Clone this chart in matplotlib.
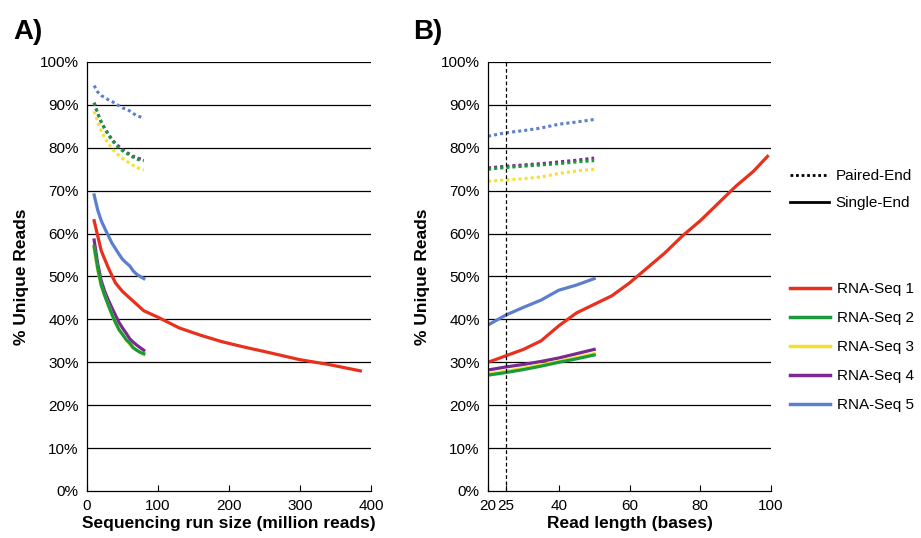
import matplotlib
matplotlib.use("Agg")
import matplotlib.pyplot as plt
from matplotlib.lines import Line2D

plt.rcParams["font.family"] = ["Liberation Sans", "DejaVu Sans"]

names = ["RNA-Seq 1", "RNA-Seq 2", "RNA-Seq 3", "RNA-Seq 4", "RNA-Seq 5"]
colors = ["#e8301c", "#1a9a3a", "#f5e12a", "#7b2a92", "#5b7fcc"]

# Panel A: run size (million reads) vs % unique reads
run_pe = [10, 15, 20, 25, 30, 35, 40, 45, 50, 55, 60, 65, 70, 75, 80]
pe_a = {
    "RNA-Seq 5": [94.5, 93.0, 92.2, 91.7, 91.2, 90.8, 90.3, 89.8, 89.3, 89.0, 88.6, 88.0, 87.5, 87.2, 86.8],
    "RNA-Seq 4": [90.5, 88.0, 86.0, 84.5, 83.2, 82.0, 81.0, 80.3, 79.6, 79.0, 78.5, 78.0, 77.7, 77.4, 77.2],
    "RNA-Seq 2": [90.5, 88.0, 86.0, 84.4, 83.0, 81.8, 80.8, 80.0, 79.3, 78.8, 78.3, 77.8, 77.4, 77.1, 77.0],
    "RNA-Seq 3": [88.5, 86.0, 84.0, 82.3, 81.0, 79.8, 79.0, 78.2, 77.5, 77.0, 76.4, 75.9, 75.5, 75.0, 74.8],
}
run_se1 = [10, 20, 30, 40, 50, 60, 70, 80, 100, 130, 160, 190, 220, 250, 300, 340, 385]
se1_a = [63.0, 56.0, 52.0, 48.5, 46.5, 45.0, 43.5, 42.0, 40.5, 38.0, 36.3, 34.8, 33.6, 32.5, 30.6, 29.5, 28.0]
run_se = [10, 15, 20, 25, 30, 35, 40, 45, 50, 55, 60, 65, 70, 75, 80]
se_a = {
    "RNA-Seq 5": [69.0, 65.5, 63.0, 61.2, 59.5, 57.8, 56.5, 55.2, 54.0, 53.2, 52.5, 51.3, 50.5, 50.0, 49.5],
    "RNA-Seq 4": [58.5, 53.0, 49.0, 46.5, 44.5, 42.7, 41.0, 39.3, 38.0, 36.8, 35.5, 34.7, 34.0, 33.4, 32.8],
    "RNA-Seq 3": [56.5, 51.5, 47.8, 45.5, 43.3, 41.2, 39.2, 37.7, 36.5, 35.3, 34.2, 33.3, 32.8, 32.3, 31.8],
    "RNA-Seq 2": [57.0, 52.0, 48.0, 45.5, 43.3, 41.2, 39.3, 37.6, 36.5, 35.3, 34.5, 33.4, 32.8, 32.3, 32.0],
}

# Panel B: read length (bases) vs % unique reads
len_short = [20, 25, 30, 35, 40, 45, 50]
pe_b = {
    "RNA-Seq 5": [82.7, 83.5, 84.0, 84.6, 85.5, 86.0, 86.6],
    "RNA-Seq 4": [75.3, 75.7, 76.0, 76.3, 76.7, 77.1, 77.6],
    "RNA-Seq 2": [75.0, 75.4, 75.7, 76.0, 76.3, 76.7, 77.0],
    "RNA-Seq 3": [72.2, 72.5, 72.8, 73.2, 74.0, 74.6, 75.0],
}
se_b = {
    "RNA-Seq 5": [38.7, 41.0, 42.8, 44.5, 46.8, 48.0, 49.5],
    "RNA-Seq 4": [28.2, 28.9, 29.5, 30.2, 31.0, 32.0, 33.0],
    "RNA-Seq 3": [27.3, 27.9, 28.6, 29.4, 30.2, 31.1, 32.0],
    "RNA-Seq 2": [27.0, 27.6, 28.3, 29.1, 30.0, 30.8, 31.7],
}
len_long = [20, 25, 30, 35, 40, 45, 50, 55, 60, 65, 70, 75, 80, 85, 90, 95, 99]
se1_b = [30.0, 31.5, 33.0, 35.0, 38.5, 41.5, 43.5, 45.5, 48.5, 52.0, 55.5, 59.5, 63.0, 67.0, 71.0, 74.5, 78.0]

yticks = [0, 10, 20, 30, 40, 50, 60, 70, 80, 90, 100]

fig = plt.figure(figsize=(9.21, 5.38), dpi=100)
axA = fig.add_axes([0.0945, 0.0874, 0.3083, 0.7974])
axB = fig.add_axes([0.5299, 0.0874, 0.3073, 0.7974])

col = dict(zip(names, colors))


def style(ax):
    ax.set_ylim(0, 100)
    ax.set_yticks(yticks)
    ax.set_yticklabels(["%d%%" % v for v in yticks])
    for v in yticks[1:]:
        ax.axhline(v, color="black", lw=0.9, zorder=0)
    for s in ["top", "right"]:
        ax.spines[s].set_visible(False)
    ax.spines["left"].set_linewidth(0.9)
    ax.spines["bottom"].set_linewidth(0.9)
    ax.tick_params(axis="y", length=0, labelsize=11, pad=6)
    ax.tick_params(axis="x", direction="in", length=4, labelsize=11, pad=6)
    ax.set_ylabel("% Unique Reads", fontsize=12.5, fontweight="bold", labelpad=8)


# panel A
for k, v in pe_a.items():
    axA.plot(run_pe, v, color=col[k], ls=(0, (1, 1)), lw=2.2)
for k, v in se_a.items():
    axA.plot(run_se, v, color=col[k], lw=2.3)
axA.plot(run_se1, se1_a, color=col["RNA-Seq 1"], lw=2.3)
axA.set_xlim(0, 400)
axA.set_xticks([0, 100, 200, 300, 400])
style(axA)
axA.set_xlabel("Sequencing run size (million reads)", fontsize=12.5, fontweight="bold", labelpad=2)

# panel B
for k, v in pe_b.items():
    axB.plot(len_short, v, color=col[k], ls=(0, (1, 1)), lw=2.2)
for k, v in se_b.items():
    axB.plot(len_short, v, color=col[k], lw=2.3)
axB.plot(len_long, se1_b, color=col["RNA-Seq 1"], lw=2.3)
axB.axvline(25, color="black", ls=(0, (3, 2)), lw=0.9)
axB.set_xlim(20, 100)
axB.set_xticks([20, 25, 40, 60, 80, 100])
style(axB)
axB.set_xlabel("Read length (bases)", fontsize=12.5, fontweight="bold", labelpad=2)

fig.text(0.014, 0.94, "A)", fontsize=20, fontweight="bold", va="center")
fig.text(0.449, 0.94, "B)", fontsize=20, fontweight="bold", va="center")

# legends
h1 = [Line2D([], [], color="black", ls=(0, (1, 1)), lw=2),
      Line2D([], [], color="black", lw=2)]
fig.legend(h1, ["Paired-End", "Single-End"], loc="upper left",
           bbox_to_anchor=(0.849, 0.700), frameon=False, fontsize=11,
           borderpad=0, handlelength=2.6, handletextpad=0.4, labelspacing=0.85)
h2 = [Line2D([], [], color=c, lw=2.5) for c in colors]
fig.legend(h2, names, loc="upper left", bbox_to_anchor=(0.850, 0.490),
           frameon=False, fontsize=11, borderpad=0, handlelength=2.6,
           handletextpad=0.45, labelspacing=0.98)

plt.savefig("out.png", dpi=100)
